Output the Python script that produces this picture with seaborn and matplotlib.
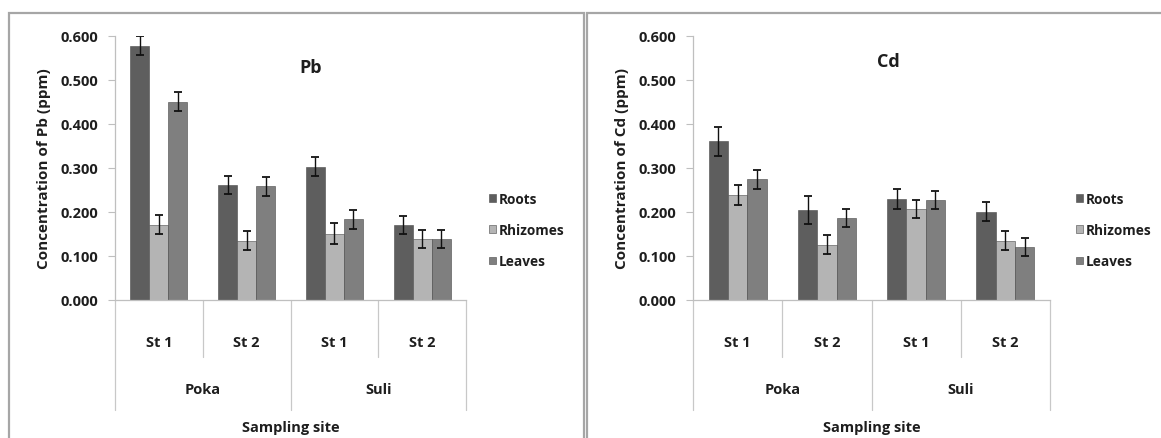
import pandas as pd
import matplotlib.pyplot as plt
import matplotlib.transforms as mtransforms
from matplotlib.patches import Rectangle
import seaborn as sns

# ---------------------------------------------
# Data
# ---------------------------------------------
stations = ['Poka St 1', 'Poka St 2', 'Suli St 1', 'Suli St 2']
station_labels = ['St 1', 'St 2', 'St 1', 'St 2']
sites = ['Poka', 'Suli']
tissues = ['Roots', 'Rhizomes', 'Leaves']

pb_roots = [0.578, 0.261, 0.303, 0.171]
pb_rhizomes = [0.171, 0.135, 0.151, 0.139]
pb_leaves = [0.451, 0.258, 0.183, 0.139]
pb_roots_err = [0.021, 0.021, 0.021, 0.021]
pb_rhizomes_err = [0.022, 0.021, 0.023, 0.020]
pb_leaves_err = [0.021, 0.021, 0.021, 0.020]

cd_roots = [0.361, 0.205, 0.229, 0.201]
cd_rhizomes = [0.239, 0.126, 0.207, 0.135]
cd_leaves = [0.274, 0.186, 0.227, 0.120]
cd_roots_err = [0.033, 0.032, 0.023, 0.021]
cd_rhizomes_err = [0.022, 0.022, 0.021, 0.022]
cd_leaves_err = [0.021, 0.021, 0.021, 0.020]

colors = ['#5e5e5e', '#b4b4b4', '#7f7f7f']
text_color = '#1e1e1e'


def make_df(roots, rhizomes, leaves, roots_err, rhizomes_err, leaves_err):
    rows = []
    for tissue, vals, errs in zip(tissues, [roots, rhizomes, leaves],
                                  [roots_err, rhizomes_err, leaves_err]):
        for st, v, e in zip(stations, vals, errs):
            rows.append({'Station': st, 'Tissue': tissue, 'Value': v, 'Err': e})
    return pd.DataFrame(rows)


pb = make_df(pb_roots, pb_rhizomes, pb_leaves, pb_roots_err, pb_rhizomes_err, pb_leaves_err)
cd = make_df(cd_roots, cd_rhizomes, cd_leaves, cd_roots_err, cd_rhizomes_err, cd_leaves_err)

sns.set_style('white')
plt.rcParams['font.family'] = ['Open Sans', 'DejaVu Sans']
plt.rcParams['font.weight'] = 'bold'

W, H = 1161, 439
fig = plt.figure(figsize=(W / 100, H / 100), dpi=100)
fig.patch.set_facecolor('white')

# panel frames
frame_kw = dict(fill=False, edgecolor='#a6a6a6', linewidth=1.6, transform=fig.transFigure)
fig.patches.append(Rectangle((9 / W, -0.05), (584 - 9) / W, 1.05 - 14 / H, **frame_kw))
fig.patches.append(Rectangle((587 / W, -0.05), 0.6, 1.05 - 14 / H, **frame_kw))

FS = 10.5


def draw_panel(df, left_px, width_px, title, title_xy, legend_x_px):
    ax = fig.add_axes([left_px / W, (H - 301) / H, width_px / W, 264 / H])
    sns.barplot(data=df, x='Station', y='Value', hue='Tissue', order=stations,
                hue_order=tissues, palette=colors, width=0.65, errorbar=None,
                edgecolor='#4a4a4a', linewidth=0.4, legend=False, ax=ax)

    # error bars on top of each bar
    for tissue, cont in zip(tissues, ax.containers):
        sub = df[df['Tissue'] == tissue].set_index('Station').loc[stations]
        xs = [b.get_x() + b.get_width() / 2 for b in cont]
        ax.errorbar(xs, sub['Value'], yerr=sub['Err'], fmt='none', ecolor='#111111',
                    elinewidth=1.0, capsize=3, capthick=1.3, zorder=5)

    ax.set_ylim(0, 0.6)
    ax.set_xlim(-0.5, 3.5)
    ax.set_yticks([0, 0.1, 0.2, 0.3, 0.4, 0.5, 0.6])
    ax.set_yticklabels([f'{v:.3f}' for v in ax.get_yticks()], fontsize=FS,
                       fontweight='bold', color=text_color)
    ax.set_xticks(range(4))
    ax.set_xticklabels(station_labels, fontsize=FS, fontweight='bold', color=text_color)
    ax.tick_params(axis='x', length=0, pad=25)
    ax.tick_params(axis='y', length=5, width=0.8, color='#bfbfbf', pad=7, left=True)
    ax.set_xlabel('')
    ax.set_ylabel(f'Concentration of {title} (ppm)', fontsize=11, fontweight='bold',
                  color=text_color, labelpad=7)
    for s in ['top', 'right']:
        ax.spines[s].set_visible(False)
    for s in ['left', 'bottom']:
        ax.spines[s].set_color('#bfbfbf')
        ax.spines[s].set_linewidth(0.9)

    # hierarchical category axis
    trans = mtransforms.blended_transform_factory(ax.transData, ax.transAxes)
    for xb in [0.5, 2.5]:
        ax.plot([xb, xb], [0, -0.216], color='#c8c8c8', lw=0.9, transform=trans, clip_on=False)
    for xb in [-0.5, 1.5, 3.5]:
        ax.plot([xb, xb], [0, -0.417], color='#c8c8c8', lw=0.9, transform=trans, clip_on=False)
    for i, site in enumerate(sites):
        ax.text(2 * i + 0.5, -0.337, site, transform=trans, ha='center', va='center',
                fontsize=FS, fontweight='bold', color=text_color)
    ax.text(1.5, -0.481, 'Sampling site', transform=trans, ha='center', va='center',
            fontsize=FS, fontweight='bold', color=text_color)

    ax.text(title_xy[0], title_xy[1], title, transform=ax.transAxes, ha='center',
            va='center', fontsize=13, fontweight='bold', color=text_color)

    ax.legend(handles=list(ax.containers), labels=tissues, loc='center left',
              bbox_to_anchor=(legend_x_px / W, 1 - 231 / H), bbox_transform=fig.transFigure,
              frameon=False, handlelength=0.5, handleheight=0.5, handletextpad=0.2,
              labelspacing=1.28, borderaxespad=0, borderpad=0,
              prop={'size': 9.8, 'weight': 'bold'}, labelcolor=text_color)
    return ax


draw_panel(pb, 115, 351, 'Pb', (0.556, 0.883), 489)
draw_panel(cd, 693, 357, 'Cd', (0.546, 0.905), 1076)

fig.savefig('out.png', dpi=100)
